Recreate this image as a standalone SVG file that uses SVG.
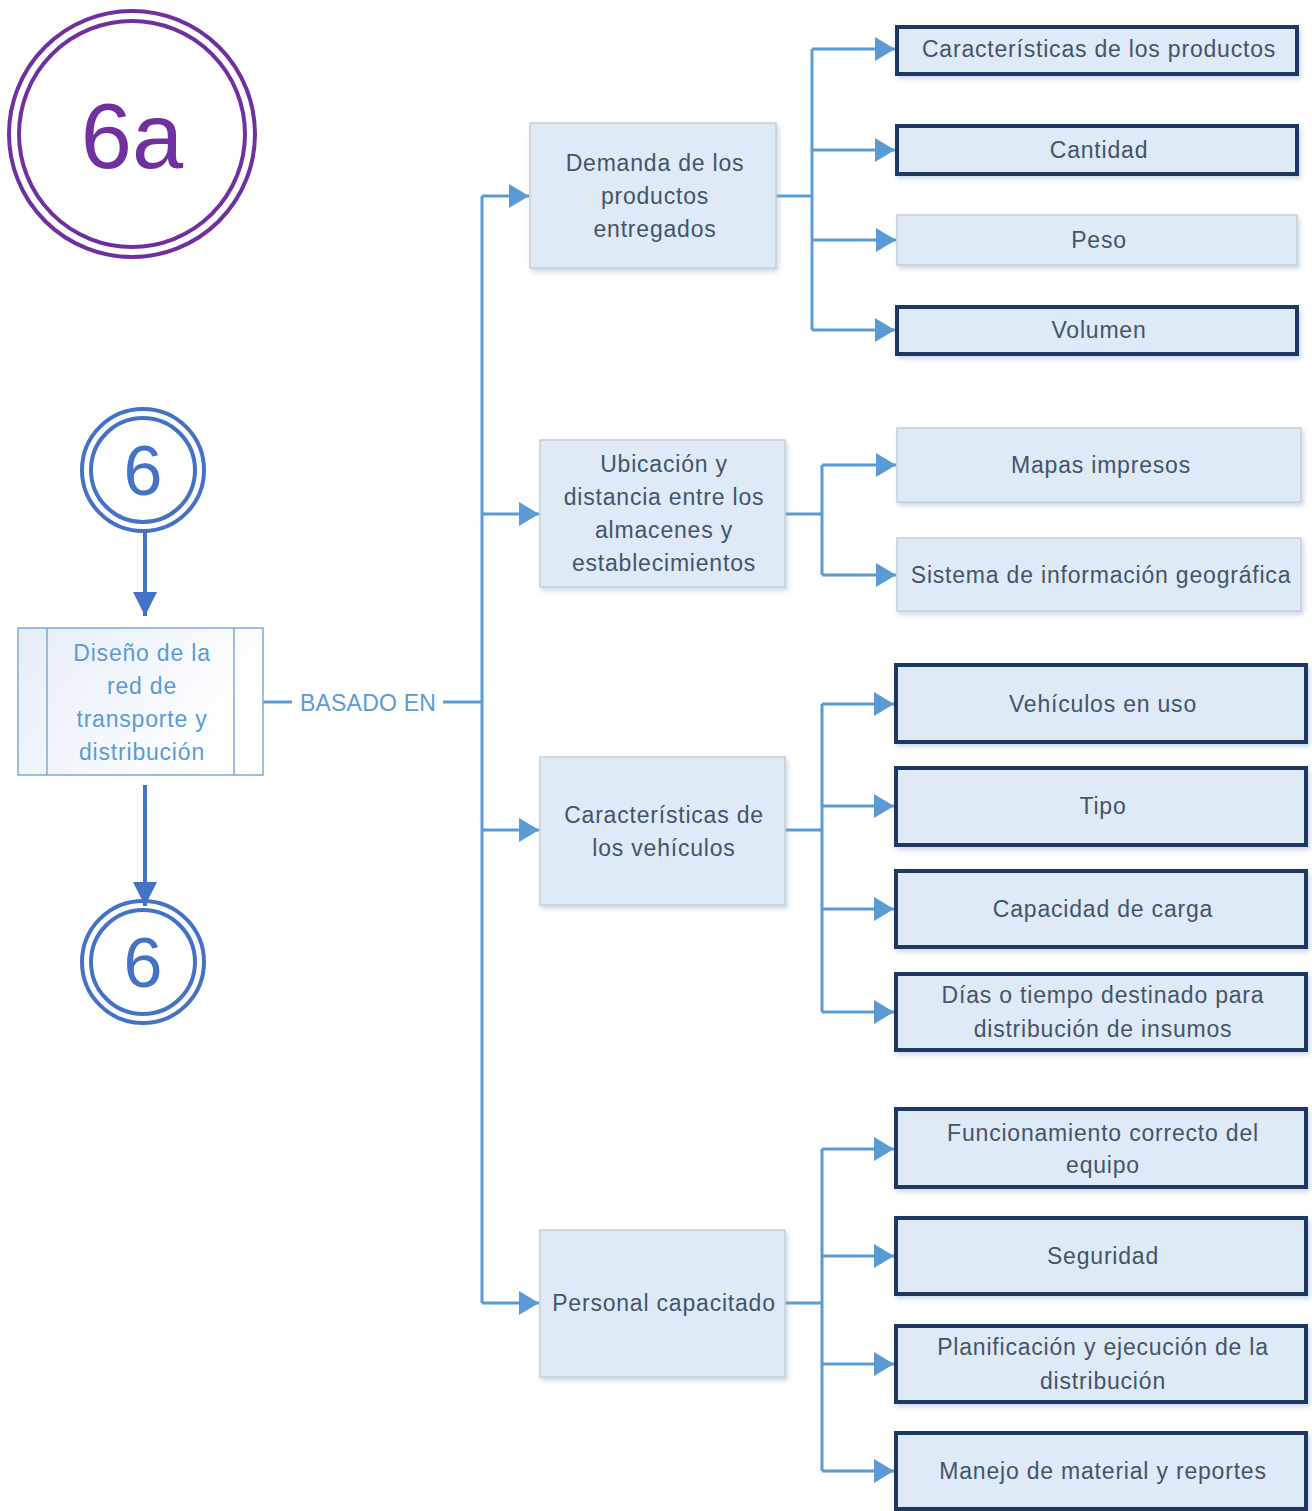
<svg xmlns="http://www.w3.org/2000/svg" width="1312" height="1511" viewBox="0 0 1312 1511">
<defs>
<style>
.t{font-family:"Liberation Sans",Arial,sans-serif;font-size:23px;letter-spacing:0.8px;fill:#44546A;text-anchor:middle;dominant-baseline:central}
.tb{font-family:"Liberation Sans",Arial,sans-serif;font-size:23px;letter-spacing:0.8px;fill:#5B9BD5;text-anchor:middle;dominant-baseline:central}
.mid{fill:#DEEAF6;stroke:#C9CED6;stroke-width:1.5}
.dark{fill:#DEEAF6;stroke:#1F3864;stroke-width:4}
.light{fill:#DEEAF6;stroke:#C9CED6;stroke-width:1.5}
.con{fill:none;stroke:#5B9BD5;stroke-width:3}
.flow{fill:none;stroke:#4472C4;stroke-width:4}
.ring6{fill:none;stroke:#4472C4;stroke-width:4}
.ring6a{fill:none;stroke:#7030A0;stroke-width:4}
</style>
<marker id="ah" viewBox="0 0 20 24" refX="20" refY="12" markerWidth="20" markerHeight="24" markerUnits="userSpaceOnUse" orient="auto">
<path d="M0,0 L20,12 L0,24 z" fill="#5B9BD5"/>
</marker>
<marker id="ahf" viewBox="0 0 26 24" refX="24" refY="12" markerWidth="26" markerHeight="24" markerUnits="userSpaceOnUse" orient="auto">
<path d="M0,0 L24,12 L0,24 z" fill="#4472C4"/>
</marker>
<filter id="sh" x="-10%" y="-10%" width="125%" height="130%">
<feDropShadow dx="2" dy="3" stdDeviation="2.5" flood-color="#8FA9C8" flood-opacity="0.45"/>
</filter>
<linearGradient id="pg" x1="0" y1="0" x2="1" y2="0.4">
<stop offset="0" stop-color="#E6EDF8"/>
<stop offset="1" stop-color="#FFFFFF"/>
</linearGradient>
</defs>
<rect width="1312" height="1511" fill="#FFFFFF"/>

<g id="connectors">
<path class="flow" d="M145,532 V616" marker-end="url(#ahf)"/>
<path class="flow" d="M145,785 V906" marker-end="url(#ahf)"/>
<path class="con" d="M263,702 H292"/>
<path class="con" d="M443,702 H482"/>
<path class="con" d="M482,196 V1303"/>
<path class="con" d="M482,196 H529" marker-end="url(#ah)"/>
<path class="con" d="M482,514 H539" marker-end="url(#ah)"/>
<path class="con" d="M482,830 H539" marker-end="url(#ah)"/>
<path class="con" d="M482,1303 H539" marker-end="url(#ah)"/>
<path class="con" d="M776,196 H812"/>
<path class="con" d="M812,49 V330"/>
<path class="con" d="M812,49 H895" marker-end="url(#ah)"/>
<path class="con" d="M812,150 H895" marker-end="url(#ah)"/>
<path class="con" d="M812,240 H896" marker-end="url(#ah)"/>
<path class="con" d="M812,330 H895" marker-end="url(#ah)"/>
<path class="con" d="M785,514 H822"/>
<path class="con" d="M822,465 V575"/>
<path class="con" d="M822,465 H896" marker-end="url(#ah)"/>
<path class="con" d="M822,575 H896" marker-end="url(#ah)"/>
<path class="con" d="M785,830 H822"/>
<path class="con" d="M822,704 V1012"/>
<path class="con" d="M822,704 H894" marker-end="url(#ah)"/>
<path class="con" d="M822,806 H894" marker-end="url(#ah)"/>
<path class="con" d="M822,909 H894" marker-end="url(#ah)"/>
<path class="con" d="M822,1012 H894" marker-end="url(#ah)"/>
<path class="con" d="M785,1303 H822"/>
<path class="con" d="M822,1149 V1471"/>
<path class="con" d="M822,1149 H894" marker-end="url(#ah)"/>
<path class="con" d="M822,1256 H894" marker-end="url(#ah)"/>
<path class="con" d="M822,1364 H894" marker-end="url(#ah)"/>
<path class="con" d="M822,1471 H894" marker-end="url(#ah)"/>
<text class="tb" x="368" y="703" style="letter-spacing:0.2px">BASADO EN</text>
</g>

<g id="n6a">
<circle class="ring6a" cx="132" cy="134" r="123"/>
<circle class="ring6a" cx="132" cy="134" r="113"/>
<text x="132" y="168" font-family="'Liberation Sans',Arial,sans-serif" font-size="92" fill="#7030A0" text-anchor="middle">6a</text>
</g>

<g id="n6top">
<circle class="ring6" cx="143" cy="470" r="61"/>
<circle class="ring6" cx="143" cy="470" r="52"/>
<text x="143" y="495" font-family="'Liberation Sans',Arial,sans-serif" font-size="70" fill="#4472C4" text-anchor="middle">6</text>
</g>

<g id="n6bottom">
<circle class="ring6" cx="143" cy="962" r="61"/>
<circle class="ring6" cx="143" cy="962" r="52"/>
<text x="143" y="987" font-family="'Liberation Sans',Arial,sans-serif" font-size="70" fill="#4472C4" text-anchor="middle">6</text>
</g>

<g id="diseno">
<rect x="18" y="628" width="245" height="147" fill="url(#pg)" stroke="#7FA7D8" stroke-width="1.5"/>
<line x1="47" y1="628" x2="47" y2="775" stroke="#7FA7D8" stroke-width="1.5"/>
<line x1="234" y1="628" x2="234" y2="775" stroke="#7FA7D8" stroke-width="1.5"/>
<text class="tb" x="142" y="653">Diseño de la</text>
<text class="tb" x="142" y="686">red de</text>
<text class="tb" x="142" y="719">transporte y</text>
<text class="tb" x="142" y="752">distribución</text>
</g>

<g id="demanda">
<rect class="mid" x="530" y="123" width="246" height="145" filter="url(#sh)"/>
<text class="t" x="655" y="163">Demanda de los</text>
<text class="t" x="655" y="196">productos</text>
<text class="t" x="655" y="229">entregados</text>
</g>

<g id="ubicacion">
<rect class="mid" x="540" y="440" width="245" height="147" filter="url(#sh)"/>
<text class="t" x="664" y="464">Ubicación y</text>
<text class="t" x="664" y="497">distancia entre los</text>
<text class="t" x="664" y="530">almacenes y</text>
<text class="t" x="664" y="563">establecimientos</text>
</g>

<g id="vehiculos">
<rect class="mid" x="540" y="757" width="245" height="148" filter="url(#sh)"/>
<text class="t" x="664" y="815">Características de</text>
<text class="t" x="664" y="848">los vehículos</text>
</g>

<g id="personal">
<rect class="mid" x="540" y="1230" width="245" height="147" filter="url(#sh)"/>
<text class="t" x="664" y="1303">Personal capacitado</text>
</g>

<g id="caracteristicas-productos">
<rect class="dark" x="897" y="27" width="400" height="47" filter="url(#sh)"/>
<text class="t" x="1099" y="49">Características de los productos</text>
</g>
<g id="cantidad">
<rect class="dark" x="897" y="126" width="400" height="48" filter="url(#sh)"/>
<text class="t" x="1099" y="150">Cantidad</text>
</g>
<g id="peso">
<rect class="light" x="897" y="215" width="400" height="50" filter="url(#sh)"/>
<text class="t" x="1099" y="240">Peso</text>
</g>
<g id="volumen">
<rect class="dark" x="897" y="307" width="400" height="47" filter="url(#sh)"/>
<text class="t" x="1099" y="330">Volumen</text>
</g>

<g id="mapas">
<rect class="light" x="897" y="428" width="404" height="74" filter="url(#sh)"/>
<text class="t" x="1101" y="465">Mapas impresos</text>
</g>
<g id="sig">
<rect class="light" x="897" y="538" width="404" height="73" filter="url(#sh)"/>
<text class="t" x="1101" y="575">Sistema de información geográfica</text>
</g>

<g id="vehiculos-uso">
<rect class="dark" x="896" y="665" width="410" height="77" filter="url(#sh)"/>
<text class="t" x="1103" y="704">Vehículos en uso</text>
</g>
<g id="tipo">
<rect class="dark" x="896" y="768" width="410" height="77" filter="url(#sh)"/>
<text class="t" x="1103" y="806">Tipo</text>
</g>
<g id="capacidad">
<rect class="dark" x="896" y="871" width="410" height="76" filter="url(#sh)"/>
<text class="t" x="1103" y="909">Capacidad de carga</text>
</g>
<g id="dias">
<rect class="dark" x="896" y="974" width="410" height="76" filter="url(#sh)"/>
<text class="t" x="1103" y="995">Días o tiempo destinado para</text>
<text class="t" x="1103" y="1029">distribución de insumos</text>
</g>

<g id="funcionamiento">
<rect class="dark" x="896" y="1109" width="410" height="78" filter="url(#sh)"/>
<text class="t" x="1103" y="1133">Funcionamiento correcto del</text>
<text class="t" x="1103" y="1165">equipo</text>
</g>
<g id="seguridad">
<rect class="dark" x="896" y="1218" width="410" height="76" filter="url(#sh)"/>
<text class="t" x="1103" y="1256">Seguridad</text>
</g>
<g id="planificacion">
<rect class="dark" x="896" y="1326" width="410" height="76" filter="url(#sh)"/>
<text class="t" x="1103" y="1347">Planificación y ejecución de la</text>
<text class="t" x="1103" y="1381">distribución</text>
</g>
<g id="manejo">
<rect class="dark" x="896" y="1433" width="410" height="76" filter="url(#sh)"/>
<text class="t" x="1103" y="1471">Manejo de material y reportes</text>
</g>
</svg>
